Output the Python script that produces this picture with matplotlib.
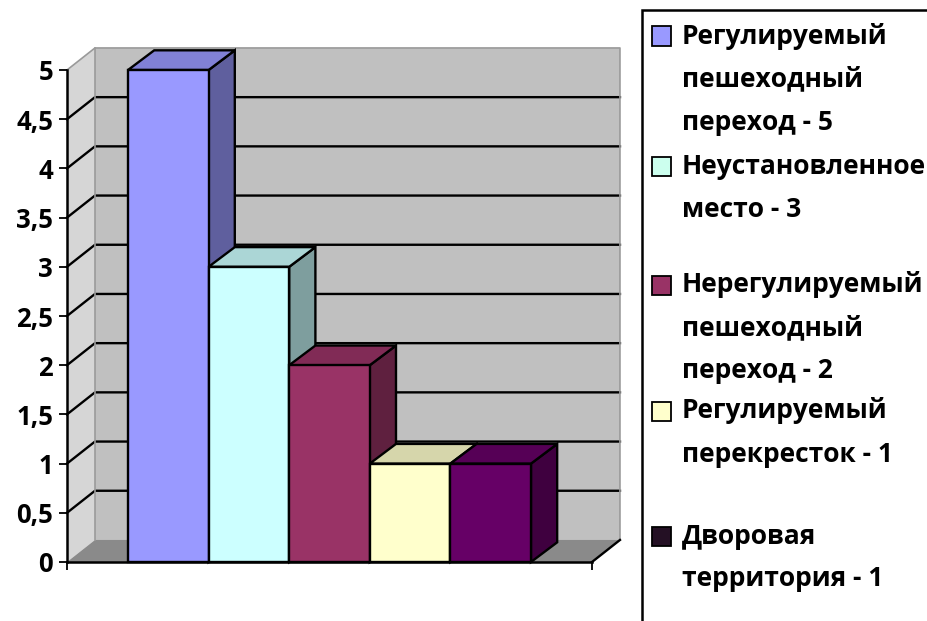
import matplotlib
matplotlib.use('Agg')
import matplotlib.pyplot as plt
from matplotlib.patches import Polygon, Rectangle
import numpy as np

# --- data ---
categories = ['Регулируемый\nпешеходный\nпереход - 5',
              'Неустановленное\nместо - 3',
              'Нерегулируемый\nпешеходный\nпереход - 2',
              'Регулируемый\nперекресток - 1',
              'Дворовая\nтерритория - 1']
values = [5, 3, 2, 1, 1]
bar_colors = ['#9999ff', '#ccffff', '#993366', '#ffffcc', '#660066']
legend_colors = ['#9999ff', '#ccffee', '#993366', '#ffffcc', '#241024']
yticks = [0, 0.5, 1, 1.5, 2, 2.5, 3, 3.5, 4, 4.5, 5]
ytick_labels = ['0', '0,5', '1', '1,5', '2', '2,5', '3', '3,5', '4', '4,5', '5']

plt.rcParams['font.family'] = ['Open Sans', 'DejaVu Sans']
plt.rcParams['font.weight'] = 'bold'

W, H = 928, 621
fig = plt.figure(figsize=(W / 100, H / 100), dpi=100)
fig.patch.set_facecolor('white')

# front plane of the plot area, in pixels
ax = fig.add_axes([67 / W, 1 - 562 / H, (592 - 67) / W, (562 - 70) / H])
ax.patch.set_visible(False)
x0, x1 = -1.257, len(values) - 1 + 1.257
ax.set_xlim(x0, x1)
ax.set_ylim(0, 5)

# depth offsets (data units)
dx, dy = 0.347, 0.224     # walls
bdx, bdy = 0.325, 0.2     # bars

ymax = yticks[-1]


def shade(c, f):
    r, g, b = matplotlib.colors.to_rgb(c)
    return (r * f, g * f, b * f)


# walls and floor
ax.add_patch(Polygon([(x0, 0), (x0, ymax), (x0 + dx, ymax + dy), (x0 + dx, dy)],
                     facecolor='#d6d6d6', edgecolor='none', zorder=0.5, clip_on=False))
ax.add_patch(Polygon([(x0 + dx, dy), (x1 + dx, dy), (x1 + dx, ymax + dy), (x0 + dx, ymax + dy)],
                     facecolor='#c0c0c0', edgecolor='none', zorder=0.5, clip_on=False))
ax.add_patch(Polygon([(x0, 0), (x1, 0), (x1 + dx, dy), (x0 + dx, dy)],
                     facecolor='#8a8a8a', edgecolor='none', zorder=0.6, clip_on=False))

# gridlines on side + back wall
for y in yticks[1:-1]:
    ax.plot([x0, x0 + dx, x1 + dx], [y, y + dy, y + dy], color='black', lw=1.7,
            zorder=1, clip_on=False, solid_joinstyle='miter')

# wall edges
edge = '#9a9a9a'
ax.plot([x0, x0 + dx, x1 + dx, x1 + dx], [ymax, ymax + dy, ymax + dy, dy],
        color=edge, lw=1.2, zorder=1, clip_on=False)
ax.plot([x0 + dx, x0 + dx], [dy, ymax + dy], color=edge, lw=1.2, zorder=1, clip_on=False)
ax.plot([x1, x1 + dx], [0, dy], color='black', lw=1.7, zorder=1, clip_on=False)

# 3d bars, drawn left to right
for i, (v, c) in enumerate(zip(values, bar_colors)):
    xl, xr = i - 0.5, i + 0.5
    z = 3 + i
    kw = dict(edgecolor='black', lw=1.7, clip_on=False, joinstyle='miter')
    ax.add_patch(Polygon([(xr, 0), (xr + bdx, bdy), (xr + bdx, v + bdy), (xr, v)],
                         facecolor=shade(c, 0.62), zorder=z, **kw))
    ax.add_patch(Polygon([(xl, v), (xr, v), (xr + bdx, v + bdy), (xl + bdx, v + bdy)],
                         facecolor=shade(c, 0.84), zorder=z, **kw))
    ax.add_patch(Rectangle((xl, 0), 1, v, facecolor=c, zorder=z + 0.5, **kw))

# axes
for s in ['top', 'right']:
    ax.spines[s].set_visible(False)
for s in ['left', 'bottom']:
    ax.spines[s].set_linewidth(1.8)
    ax.spines[s].set_zorder(2)
ax.set_yticks(yticks)
ax.set_yticklabels(ytick_labels)
ax.set_xticks([x0, x1])
ax.set_xticklabels([])
ax.tick_params(axis='y', length=6, width=1.3, pad=4, labelsize=18.5)
ax.tick_params(axis='x', length=6, width=1.3)
for t in ax.get_yticklabels():
    t.set_fontweight('bold')

# legend box (runs off the right and bottom of the image)
fig.patches.append(Rectangle((642 / W, -0.05), 0.5, 1 - 10 / H + 0.05,
                             transform=fig.transFigure, facecolor='none',
                             edgecolor='black', lw=1.8))

first_line_y = [36, 167, 285, 411, 536]
line_step = 43
for lab, col, y in zip(categories, legend_colors, first_line_y):
    fig.patches.append(Rectangle((652 / W, 1 - (y + 9.5) / H), 19 / W, 19 / H,
                                 transform=fig.transFigure, facecolor=col,
                                 edgecolor='black', lw=1.3))
    for k, line in enumerate(lab.split('\n')):
        fig.text(682 / W, 1 - (y + k * line_step) / H, line, ha='left', va='center',
                 fontsize=19, fontweight='bold')

fig.savefig('out.png', dpi=100)
